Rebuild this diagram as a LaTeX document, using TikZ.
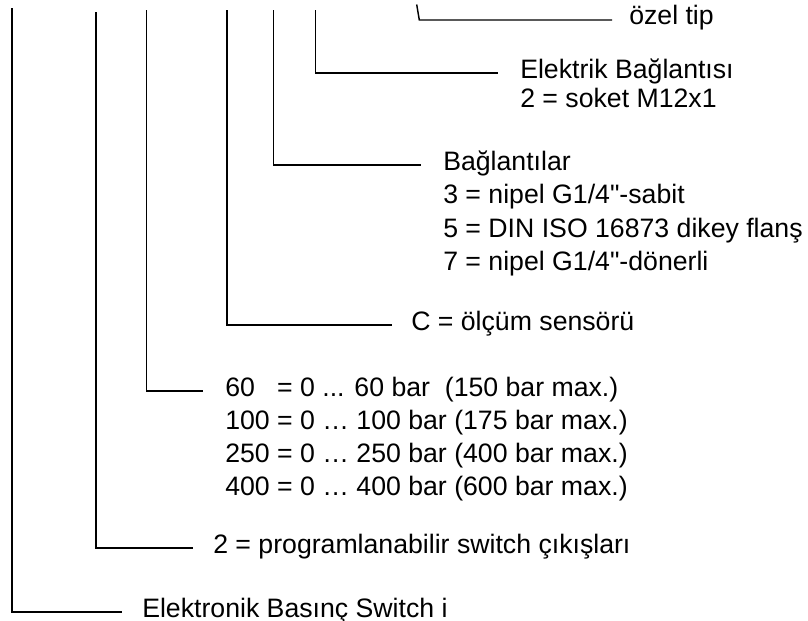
\documentclass[tikz,border=0pt]{standalone}
\usepackage{fontspec}
\setmainfont{Liberation Sans}[Ligatures=TeXOff]
\usetikzlibrary{calc}
\begin{document}
\begin{tikzpicture}[x=0.75pt,y=-0.75pt,
  lbl/.style={anchor=base west,inner sep=0pt,font=\fontsize{20}{25}\selectfont},
  leader/.style={draw=black,line width=1.1pt}]
\useasboundingbox (0,0) rectangle (808,621);
% labels
\node[lbl] (t1)  at (142,617)   {Elektronik Basınç Switch i};
\node[lbl] (t2)  at (213,553)   {2 = programlanabilir switch çıkışları};
\node[lbl] (t3a) at (225,396)   {60\hphantom{0} = 0 ... 60 bar\ \ (150 bar max.)};
\node[lbl] (t3b) at (225,429)   {100 = 0 … 100 bar (175 bar max.)};
\node[lbl] (t3c) at (225,462)   {250 = 0 … 250 bar (400 bar max.)};
\node[lbl] (t3d) at (225,495)   {400 = 0 … 400 bar (600 bar max.)};
\node[lbl] (t4)  at (411,330)   {C = ölçüm sensörü};
\node[lbl] (t5a) at (443,170)   {Bağlantılar};
\node[lbl] (t5b) at (443,203.5) {3 = nipel G1/4"-sabit};
\node[lbl] (t5c) at (443,237)   {5 = DIN ISO 16873 dikey flanş};
\node[lbl] (t5d) at (443,270.5) {7 = nipel G1/4"-dönerli};
\node[lbl] (t6a) at (520,78)    {Elektrik Bağlantısı};
\node[lbl] (t6b) at (520,107)   {2 = soket M12x1};
\node[lbl] (t7)  at (629,25)    {özel tip};
% leader tops
\coordinate (c1) at (12,8);
\coordinate (c2) at (96,12);
\coordinate (c3) at (146.5,10);
\coordinate (c4) at (227,10);
\coordinate (c5) at (273.3,10);
\coordinate (c6) at (315.3,10);
\coordinate (c7) at (416.7,4.5);
\coordinate (k7) at (419.3,20);
% leaders
\draw[leader] (c1) |- ($(t1.base west)+(-20,-5)$);
\draw[leader] (c2) |- ($(t2.base west)+(-20,-5)$);
\draw[leader] (c3) |- ($(t3a.base west)+(-22,-5)$);
\draw[leader] (c4) |- ($(t4.base west)+(-19,-5)$);
\draw[leader] (c5) |- ($(t5a.base west)+(-22,-5)$);
\draw[leader] (c6) |- ($(t6a.base west)+(-22,-5)$);
\draw[leader] (c7) -- (k7) -- ($(t7.base west)+(-17,-5)$);
\end{tikzpicture}
\end{document}
